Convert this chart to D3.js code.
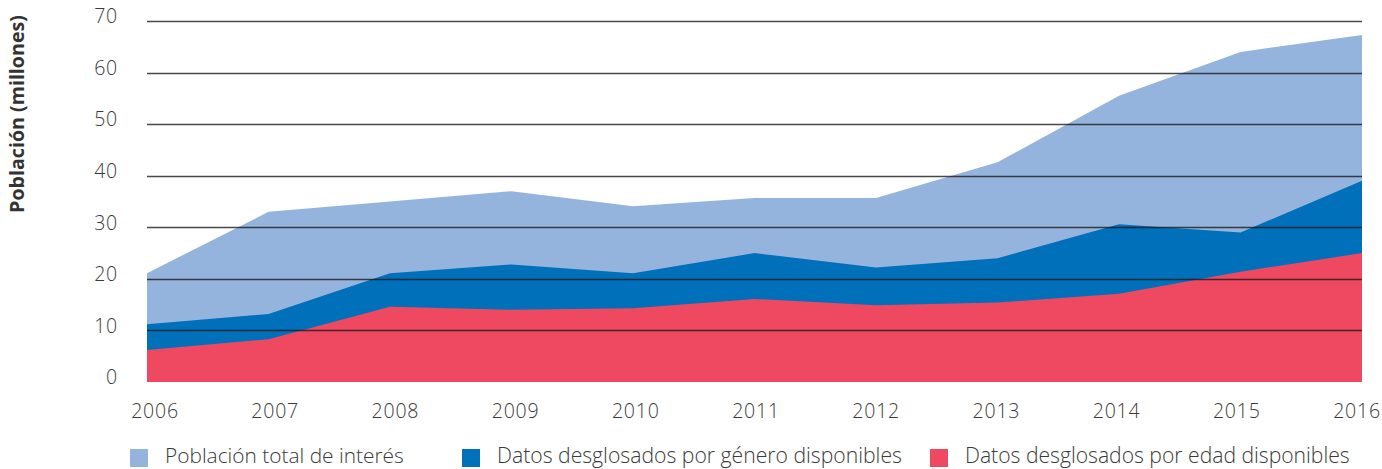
<!DOCTYPE html>
<html><head><meta charset="utf-8">
<script src="https://cdn.jsdelivr.net/npm/d3@7"></script>
<style>
html,body{margin:0;padding:0;background:#fff;}
svg{display:block;font-family:"Open Sans", Lato, sans-serif;}
</style></head>
<body>
<svg id="chart" width="1382" height="469"></svg>
<script>
const years = [2006,2007,2008,2009,2010,2011,2012,2013,2014,2015,2016];
const totalPop = [21.1,33.0,35.0,37.0,34.1,35.7,35.7,42.6,55.5,64.0,67.3];
const genderData = [11.2,13.2,21.1,22.8,21.1,25.0,22.2,24.0,30.6,29.0,39.0];
const ageData = [6.2,8.3,14.6,14.0,14.3,16.1,14.9,15.4,17.1,21.4,25.0];
const yTicks = [0,10,20,30,40,50,60,70];
const seriesNames = ["Población total de interés","Datos desglosados por género disponibles","Datos desglosados por edad disponibles"];
const seriesColors = ["#95b4dd","#0070ba","#ef4861"];
const yTitle = "Población (millones)";

const svg = d3.select("#chart");
const x = d3.scaleLinear().domain([2006,2016]).range([147,1362]);
const xLab = d3.scaleLinear().domain([2006,2016]).range([155,1357]);
const y = d3.scaleLinear().domain([0,70]).range([382,21]);

const series = [totalPop, genderData, ageData];
const area = d3.area().x((d,i)=>x(years[i])).y0(y(0)).y1(d=>y(d));
svg.append("g").selectAll("path").data(series).join("path")
  .attr("d", d=>area(d)).attr("fill",(d,i)=>seriesColors[i]);

svg.append("g").selectAll("line").data(yTicks.filter(t=>t>0)).join("line")
  .attr("x1",147).attr("x2",1362)
  .attr("y1",d=>Math.round(y(d))+0.5).attr("y2",d=>Math.round(y(d))+0.5)
  .attr("stroke","#1a1a1a").attr("stroke-opacity",0.8).attr("stroke-width",1.3);

const numFs = 19.5, numLs = 0.8;

svg.append("g").selectAll("text").data(yTicks).join("text")
  .attr("x",118).attr("y",d=>y(d)-3).attr("text-anchor","end")
  .attr("dominant-baseline","middle").attr("font-weight",300)
  .attr("font-size",numFs).attr("letter-spacing",numLs).attr("fill","#3a3a3a").text(d=>d);

svg.append("g").selectAll("text").data(years).join("text")
  .attr("x",d=>xLab(d)).attr("y",413).attr("text-anchor","middle")
  .attr("dominant-baseline","middle").attr("font-weight",300)
  .attr("font-size",numFs).attr("letter-spacing",numLs).attr("fill","#3a3a3a").text(d=>d);

svg.append("text").attr("transform","translate(24,114) rotate(-90)")
  .attr("text-anchor","middle").attr("font-size",17).attr("font-weight","bold")
  .attr("fill","#333").text(yTitle)
  .each(function(){ const l=this.getComputedTextLength(); this.setAttribute("font-size",(17*198/l).toFixed(2)); });

const legX = [130,462,930];
const legW = [239,405,385];
const leg = svg.append("g").selectAll("g").data(seriesNames).join("g")
  .attr("transform",(d,i)=>`translate(${legX[i]},449)`);
leg.append("rect").attr("width",18).attr("height",18).attr("fill",(d,i)=>seriesColors[i]);
leg.append("text").attr("x",35).attr("y",8).attr("dominant-baseline","middle")
  .attr("font-size",18).attr("font-weight",300).attr("fill","#3a3a3a").text(d=>d)
  .each(function(d,i){ const l=this.getComputedTextLength(); this.setAttribute("font-size",(18*legW[i]/l).toFixed(2)); });
</script>
</body></html>
